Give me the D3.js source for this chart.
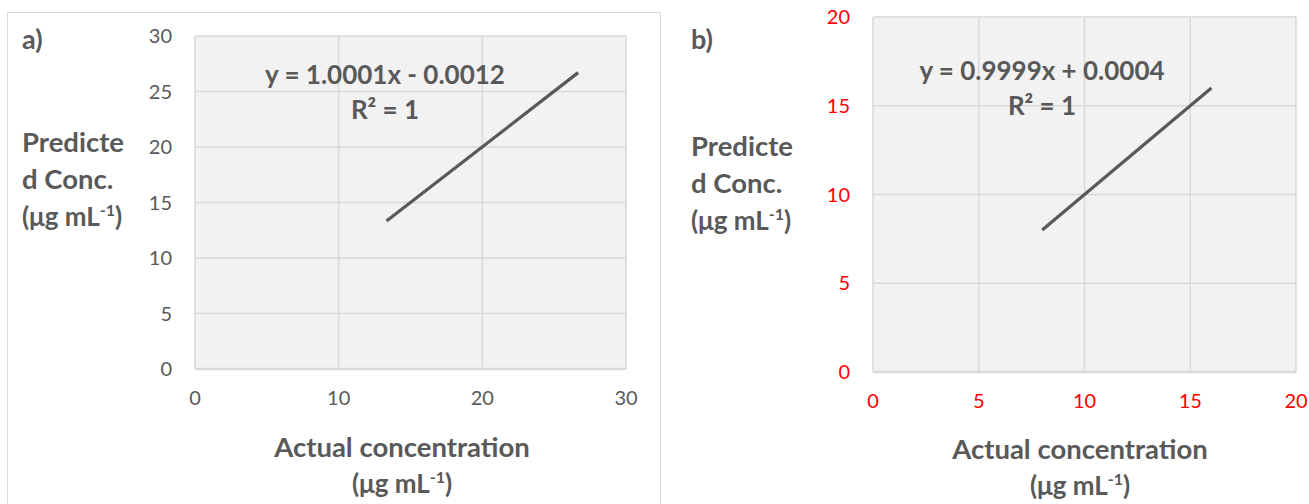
<!DOCTYPE html>
<html>
<head>
<meta charset="utf-8">
<script src="https://cdn.jsdelivr.net/npm/d3@7"></script>
<style>
  body { margin: 0; background: #fff; }
  svg text { font-family: Lato, "Open Sans", sans-serif; }
</style>
</head>
<body>
<svg id="chart" width="1309" height="504"></svg>
<script>
// panel a data
const aActual = [13.33, 26.67];
const aPredicted = [13.33, 26.7];
const aTicks = [0, 5, 10, 15, 20, 25, 30];
const aXTicks = [0, 10, 20, 30];
const aEquation = "y = 1.0001x - 0.0012";

// panel b data
const bActual = [8, 16];
const bPredicted = [8, 16];
const bTicks = [0, 5, 10, 15, 20];
const bXTicks = [0, 5, 10, 15, 20];
const bEquation = "y = 0.9999x + 0.0004";

const grey = "#595959";
let svg = d3.select("#chart");

// outer frame of panel a
svg.append("rect")
    .attr("x", 7.5).attr("y", 12.5)
    .attr("width", 653).attr("height", 500)
    .attr("fill", "none")
    .attr("stroke", "#d9d9d9");

function panel(cfg) {
    let g = svg.append("g");
    let x = d3.scaleLinear().domain(cfg.xDomain).range([cfg.left, cfg.right]);
    let y = d3.scaleLinear().domain(cfg.yDomain).range([cfg.bottom, cfg.top]);

    g.append("rect")
        .attr("x", cfg.left).attr("y", cfg.top)
        .attr("width", cfg.right - cfg.left).attr("height", cfg.bottom - cfg.top)
        .attr("fill", "#f2f2f2");

    // grid
    g.selectAll("line.hgrid").data(cfg.yTicks).enter().append("line")
        .attr("class", "hgrid")
        .attr("x1", cfg.left).attr("x2", cfg.right)
        .attr("y1", d => y(d)).attr("y2", d => y(d))
        .attr("stroke", "#d9d9d9").attr("stroke-width", d => d === 0 ? 2.5 : 1.5);
    g.selectAll("line.vgrid").data(cfg.xTicks).enter().append("line")
        .attr("class", "vgrid")
        .attr("y1", cfg.top).attr("y2", cfg.bottom)
        .attr("x1", d => x(d)).attr("x2", d => x(d))
        .attr("stroke", "#d9d9d9").attr("stroke-width", 1.5);

    // tick labels
    g.selectAll("text.yt").data(cfg.yTicks).enter().append("text")
        .attr("class", "yt")
        .attr("x", cfg.left - 23).attr("y", d => y(d))
        .attr("dy", "0.35em")
        .attr("text-anchor", "end")
        .attr("font-size", 20)
        .attr("fill", cfg.tickColor)
        .text(d => d);
    g.selectAll("text.xt").data(cfg.xTicks).enter().append("text")
        .attr("class", "xt")
        .attr("x", d => x(d)).attr("y", cfg.bottom + 29)
        .attr("dy", "0.35em")
        .attr("text-anchor", "middle")
        .attr("font-size", 20)
        .attr("fill", cfg.tickColor)
        .text(d => d);

    // trend line
    let pts = cfg.xs.map((d, i) => [d, cfg.ys[i]]);
    g.append("path")
        .datum(pts)
        .attr("d", d3.line().x(d => x(d[0])).y(d => y(d[1])))
        .attr("fill", "none")
        .attr("stroke", grey)
        .attr("stroke-width", 3.2);

    // equation
    g.append("text")
        .attr("font-size", 26).attr("font-weight", "bold")
        .attr("fill", grey).attr("text-anchor", "middle")
        .attr("x", cfg.eqX).attr("y", cfg.eqY)
        .text(cfg.equation);
    g.append("text")
        .attr("font-size", 26).attr("font-weight", "bold")
        .attr("fill", grey).attr("text-anchor", "middle")
        .attr("x", cfg.eqX).attr("y", cfg.eqY + 35)
        .text("R² = 1");

    // panel letter
    g.append("text")
        .attr("x", cfg.letterX).attr("y", 49)
        .attr("font-size", 27).attr("font-weight", "bold").attr("fill", grey)
        .text(cfg.letter);

    // y title
    let yt = ["Predicte", "d Conc."];
    yt.forEach((t, i) => {
        g.append("text")
            .attr("x", cfg.letterX).attr("y", cfg.yTitleY + i * 37)
            .attr("font-size", 27.5).attr("font-weight", "bold").attr("fill", grey)
            .text(t);
    });
    unitText(g, cfg.letterX, cfg.yTitleY + 74, "start");

    // x title
    g.append("text")
        .attr("x", cfg.xTitleX).attr("y", cfg.xTitleY)
        .attr("text-anchor", "middle")
        .attr("font-size", 27.5).attr("font-weight", "bold").attr("fill", grey)
        .text("Actual concentration");
    unitText(g, cfg.xTitleX, cfg.xTitleY + 36, "middle");
}

function unitText(g, x, y, anchor) {
    let t = g.append("text")
        .attr("x", x).attr("y", y)
        .attr("text-anchor", anchor)
        .attr("font-size", 26).attr("font-weight", "bold").attr("fill", grey);
    t.append("tspan").text("(μg mL");
    t.append("tspan").attr("font-size", 16).attr("dy", -10).text("-1");
    t.append("tspan").attr("dy", 10).text(")");
}

panel({
    left: 195, right: 626, top: 36, bottom: 369,
    xDomain: [0, 30], yDomain: [0, 30],
    xTicks: aXTicks, yTicks: aTicks,
    xs: aActual, ys: aPredicted,
    tickColor: grey,
    equation: aEquation, eqX: 385, eqY: 84,
    letter: "a)", letterX: 22,
    yTitleY: 152, xTitleX: 402, xTitleY: 457
});

panel({
    left: 873, right: 1296, top: 17, bottom: 372,
    xDomain: [0, 20], yDomain: [0, 20],
    xTicks: bXTicks, yTicks: bTicks,
    xs: bActual, ys: bPredicted,
    tickColor: "#ff0000",
    equation: bEquation, eqX: 1042, eqY: 80,
    letter: "b)", letterX: 691,
    yTitleY: 156, xTitleX: 1080, xTitleY: 459
});
</script>
</body>
</html>
